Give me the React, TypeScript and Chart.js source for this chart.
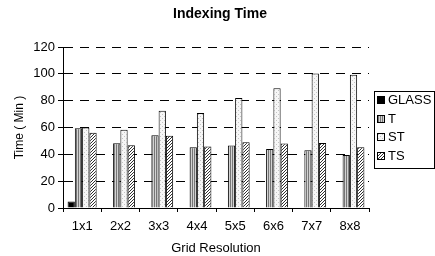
import React, { useEffect, useRef } from "react";
import { Chart, registerables } from "chart.js";

Chart.register(...registerables);

const categories = ["1x1", "2x2", "3x3", "4x4", "5x5", "6x6", "7x7", "8x8"];
const glassValues = [4.8, 0, 0, 0, 0, 0, 0, 0];
const tValues = [59.5, 48.3, 54.3, 45.3, 46.5, 44, 43, 39.5];
const stValues = [60, 58.3, 72.5, 70.8, 82, 89.3, 100.3, 99.3];
const tsValues = [56, 46.8, 53.8, 45.8, 49, 48, 48.5, 45.3];
const seriesNames = ["GLASS", "T", "ST", "TS"];
const chartTitle = "Indexing Time";
const yTitle = "Time ( Min )";
const xTitle = "Grid Resolution";

const FONT = "'Liberation Sans', Arial, sans-serif";

function makePattern(w: number, h: number, draw: (c: CanvasRenderingContext2D) => void) {
  const cv = document.createElement("canvas");
  cv.width = w;
  cv.height = h;
  const c = cv.getContext("2d")!;
  draw(c);
  return c.createPattern(cv, "repeat")!;
}

function px(c: CanvasRenderingContext2D, x: number, y: number, col: string) {
  c.fillStyle = col;
  c.fillRect(x, y, 1, 1);
}

export default function App() {
  const ref = useRef<HTMLCanvasElement>(null);
  useEffect(() => {
    const tPat = makePattern(2, 2, (c) => {
      px(c, 0, 0, "#767676"); px(c, 0, 1, "#767676");
      px(c, 1, 0, "#d2d2d2"); px(c, 1, 1, "#d2d2d2");
    });
    const stPat = makePattern(4, 4, (c) => {
      c.fillStyle = "#f6f6f6";
      c.fillRect(0, 0, 4, 4);
      px(c, 0, 0, "#c4c4c4");
      px(c, 2, 2, "#c4c4c4");
    });
    const tsPat = makePattern(3, 3, (c) => {
      c.fillStyle = "#ffffff";
      c.fillRect(0, 0, 3, 3);
      px(c, 2, 0, "#303030");
      px(c, 1, 1, "#303030");
      px(c, 0, 2, "#303030");
    });
    const fills = ["#000000", tPat, stPat, tsPat];
    const values = [glassValues, tValues, stValues, tsValues];

    const legendPlugin = {
      id: "boxLegend",
      afterDraw(chart: any) {
        const ctx = chart.ctx as CanvasRenderingContext2D;
        ctx.save();
        ctx.strokeStyle = "#000";
        ctx.lineWidth = 1;
        ctx.strokeRect(374.5, 91.5, 60, 77);
        ctx.font = `13px ${FONT}`;
        ctx.textBaseline = "middle";
        ctx.textAlign = "left";
        chart.data.datasets.forEach((ds: any, i: number) => {
          const cy = 100 + i * 18.5;
          ctx.fillStyle = ds.backgroundColor;
          ctx.fillRect(377, Math.round(cy - 4), 8, 8);
          ctx.strokeStyle = "#000";
          ctx.strokeRect(377.5, Math.round(cy - 4) + 0.5, 7, 7);
          ctx.fillStyle = "#000";
          ctx.fillText(ds.label, 388, cy + 0.5);
        });
        ctx.restore();
      },
    };

    const chart = new Chart(ref.current!, {
      type: "bar",
      data: {
        labels: categories,
        datasets: seriesNames.map((name, i) => ({
          label: name,
          data: values[i],
          backgroundColor: fills[i] as any,
          borderColor: "#000",
          borderWidth: 1,
          categoryPercentage: 0.76,
          barPercentage: 1,
        })),
      },
      options: {
        animation: false,
        responsive: false,
        layout: { padding: { left: 5, top: 0, right: 0, bottom: 0 } },
        plugins: {
          legend: { display: false },
          tooltip: { enabled: false },
          title: {
            display: true,
            text: chartTitle,
            color: "#000",
            font: { family: FONT, size: 14, weight: "bold" },
            padding: { top: 6, bottom: 24.2 },
          },
        },
        scales: {
          x: {
            offset: true,
            grid: {
              drawOnChartArea: false,
              drawTicks: true,
              tickLength: 4,
              tickColor: "#000",
              color: "#000",
              offset: true,
            },
            border: { display: true, color: "#000", width: 1 },
            ticks: { color: "#000", font: { family: FONT, size: 13 }, padding: 7 },
            title: {
              display: true,
              text: xTitle,
              color: "#000",
              font: { family: FONT, size: 13 },
              padding: { top: 0, bottom: 0 },
            },
            afterFit: (s: any) => {
              s.height = 48;
            },
          },
          y: {
            min: 0,
            max: 120,
            ticks: { stepSize: 20, color: "#000", font: { family: FONT, size: 13 }, padding: 3 },
            grid: {
              color: "#000",
              lineWidth: 1,
              tickLength: 5,
              tickColor: "#000",
              tickBorderDash: [],
            },
            border: { display: true, color: "#000", width: 1, dash: [9, 7] },
            title: {
              display: true,
              text: yTitle,
              color: "#000",
              font: { family: FONT, size: 12 },
              padding: { top: 7, bottom: 0 },
            },
            afterFit: (s: any) => {
              s.width = 58;
            },
          },
          y2: {
            type: "linear",
            position: "right",
            display: true,
            grid: { display: false, drawOnChartArea: false },
            ticks: { display: false },
            border: { display: false },
            afterFit: (s: any) => {
              s.width = 66;
            },
          },
        },
      },
      plugins: [legendPlugin],
    } as any);
    return () => chart.destroy();
  }, []);

  return (
    <div style={{ position: "absolute", left: 0, top: 0, width: 435, height: 256, background: "#fff" }}>
      <canvas ref={ref} width={435} height={256} />
    </div>
  );
}
